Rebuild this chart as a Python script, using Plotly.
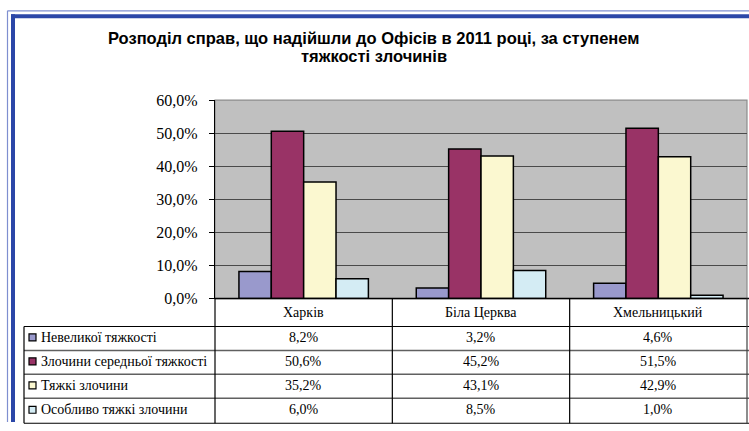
import plotly.graph_objects as go

W, H = 749, 431

title_lines = ["Розподіл справ, що надійшли до Офісів в 2011 році, за ступенем", "тяжкості злочинів"]
cities = ["Харків", "Біла Церква", "Хмельницький"]
series_names = ["Невеликої тяжкості", "Злочини середньої тяжкості", "Тяжкі злочини", "Особливо тяжкі злочини"]
small = [0.082, 0.032, 0.046]
medium = [0.506, 0.452, 0.515]
grave = [0.352, 0.431, 0.429]
very_grave = [0.060, 0.085, 0.010]
series_values = [small, medium, grave, very_grave]
colors = ["#9999CC", "#993366", "#FBF8D0", "#D4ECF4"]
y_ticks = [0, 0.1, 0.2, 0.3, 0.4, 0.5, 0.6]

# target geometry in picture pixels
PL, PR, PT, PB = 215, 747, 99, 298
TL = 24
row_lines = [298, 326, 350, 374, 398, 423]

# empirical vertical mapping of the capture (picture y = 0.963 * page y + 6.7)
VS, VO = 0.963, 6.7

def px(x):
    return x / W

def py(y):
    return 1 - ((y - VO) / VS) / H

fig = go.Figure()
for name, vals, col in zip(series_names, series_values, colors):
    fig.add_trace(go.Bar(x=cities, y=vals, name=name, marker=dict(color=col, line=dict(color="#000000", width=1.5)),
                         showlegend=False))

serif = "Liberation Serif"
shapes = []
annotations = []

shapes.append(dict(type="rect", xref="paper", yref="paper", x0=px(PL), x1=px(PR), y0=py(PB), y1=py(PT),
                   line=dict(color="#8C8C8C", width=1.2), layer="below"))

shapes.append(dict(type="line", xref="paper", yref="paper", x0=px(PL), x1=px(W), y0=py(row_lines[0]), y1=py(row_lines[0]),
                   line=dict(color="#000000", width=1.5)))
for i, yl in enumerate(row_lines[1:], start=1):
    edge = i in (1, len(row_lines) - 1)
    shapes.append(dict(type="line", xref="paper", yref="paper", x0=px(TL), x1=px(W), y0=py(yl), y1=py(yl),
                       line=dict(color="#000000" if edge else "#606060", width=1.2 if edge else 1.5)))
shapes.append(dict(type="line", xref="paper", yref="paper", x0=px(TL), x1=px(TL), y0=py(row_lines[1]), y1=py(row_lines[-1]),
                   line=dict(color="#000000", width=1.2)))
col_w = (PR - PL) / len(cities)
for k in range(len(cities) + 1):
    xx = PL + k * col_w
    shapes.append(dict(type="line", xref="paper", yref="paper", x0=px(xx), x1=px(xx), y0=py(row_lines[0]), y1=py(row_lines[-1]),
                       line=dict(color="#000000" if k < len(cities) else "#404040", width=1.2)))

for k, c in enumerate(cities):
    annotations.append(dict(x=k, xref="x", y=py((row_lines[0] + row_lines[1]) / 2), yref="paper", text=c, showarrow=False,
                            font=dict(family=serif, size=14, color="#000000"), xanchor="center", yanchor="middle"))
for r, (name, vals, colr) in enumerate(zip(series_names, series_values, colors)):
    yc = (row_lines[r + 1] + row_lines[r + 2]) / 2 - 1
    annotations.append(dict(x=px(39), xref="paper", y=py(yc), yref="paper", text=name, showarrow=False,
                            font=dict(family=serif, size=14, color="#000000"), xanchor="left", yanchor="middle"))
    shapes.append(dict(type="rect", xref="paper", yref="paper", x0=px(29), x1=px(36), y0=py(yc - 3.5), y1=py(yc + 3.5),
                       fillcolor=colr, line=dict(color="#000000", width=1.2)))
    for k, v in enumerate(vals):
        annotations.append(dict(x=k, xref="x", y=py(yc), yref="paper", text=f"{v*100:.1f}%".replace(".", ","),
                                showarrow=False, font=dict(family=serif, size=14, color="#000000"),
                                xanchor="center", yanchor="middle"))

for yy, t in zip([37, 55], title_lines):
    annotations.append(dict(x=px(374), xref="paper", y=py(yy), yref="paper", text="<b>" + t + "</b>", showarrow=False,
                            font=dict(family="Liberation Sans", size=16.5, color="#000000"),
                            xanchor="center", yanchor="middle"))

# blue double frame (left and top)
shapes.append(dict(type="line", xref="paper", yref="paper", x0=px(7.5), x1=px(7.5), y0=0, y1=py(9.5),
                   line=dict(color="#7F8FD0", width=1.2)))
shapes.append(dict(type="line", xref="paper", yref="paper", x0=px(7.5), x1=1, y0=py(9.5), y1=py(9.5),
                   line=dict(color="#7F8FD0", width=1.2)))
shapes.append(dict(type="line", xref="paper", yref="paper", x0=px(13), x1=px(13), y0=0, y1=py(13),
                   line=dict(color="#2B47A8", width=4)))
shapes.append(dict(type="line", xref="paper", yref="paper", x0=px(11), x1=1, y0=py(15), y1=py(15),
                   line=dict(color="#2B47A8", width=4)))

fig.update_layout(
    width=W, height=H, margin=dict(l=0, r=0, t=0, b=0),
    paper_bgcolor="#FFFFFF", plot_bgcolor="#C0C0C0",
    barmode="group", bargap=0.27, bargroupgap=0,
    separators=", ",
    xaxis=dict(domain=[px(PL), px(PR)], range=[-0.5, 2.5], showticklabels=False, ticks="", showgrid=False,
               zeroline=False, showline=False, fixedrange=True),
    yaxis=dict(domain=[py(PB), py(PT)], range=[0, 0.6], tickvals=y_ticks, tickformat=".1%",
               showgrid=True, gridcolor="#4A4A4A", gridwidth=1.2, zeroline=False,
               showline=True, linecolor="#000000", linewidth=1.2, ticks="outside", ticklen=5, tickcolor="#000000",
               tickfont=dict(family=serif, size=16, color="#000000"), ticklabelstandoff=8, fixedrange=True),
    shapes=shapes, annotations=annotations,
)

post = (
    "document.documentElement.style.margin='0';"
    "document.body.style.margin='0';document.body.style.overflow='hidden';"
)
fig.write_html("out.html", config={"displayModeBar": False}, post_script=post)
